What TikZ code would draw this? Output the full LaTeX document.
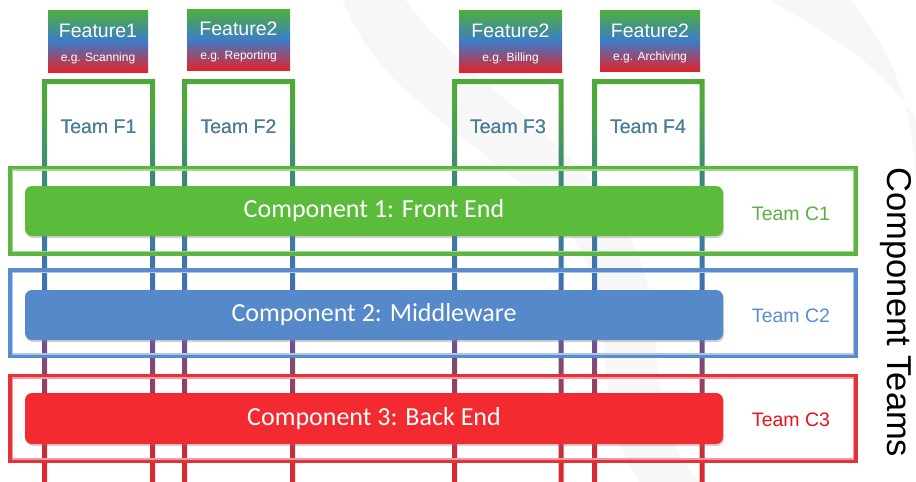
\documentclass[tikz,border=0pt]{standalone}
\usepackage{fontspec}
\setmainfont{Liberation Sans}
\newfontfamily\barfont{Carlito}
\usetikzlibrary{shadows,fadings}

% palette
\definecolor{fgreen}{HTML}{50A83C}
\definecolor{fteal}{HTML}{3C8A7C}
\definecolor{fblue}{HTML}{3E72B2}
\definecolor{fpurple}{HTML}{744E86}
\definecolor{fdred}{HTML}{B2323F}
\definecolor{fred}{HTML}{E0282E}
\definecolor{boxgreen}{HTML}{4EB03A}
\definecolor{boxblue}{HTML}{3C7CC8}
\definecolor{boxred}{HTML}{E2222C}
\definecolor{teamftop}{HTML}{3A84A0}
\definecolor{teamfbot}{HTML}{8E4874}
\definecolor{cgreen}{HTML}{5CB442}
\definecolor{cgreenl}{HTML}{9FDA86}
\definecolor{cblue}{HTML}{5A8BCB}
\definecolor{cbluel}{HTML}{A9C6EC}
\definecolor{cred}{HTML}{E4323A}
\definecolor{credl}{HTML}{F59A9E}
\definecolor{bargreen}{HTML}{5BBB3B}
\definecolor{barblue}{HTML}{5589C9}
\definecolor{barred}{HTML}{F32A30}
\definecolor{tc1}{HTML}{5AB040}
\definecolor{tc2}{HTML}{5B8ECE}
\definecolor{tc3}{HTML}{E8141C}

% colour run of the feature-team frames, green at the top to red at the bottom
\pgfdeclareverticalshading{featframe}{100bp}{%
  color(0bp)=(fred); color(26bp)=(fred); color(33.5bp)=(fdred);
  color(42bp)=(fpurple); color(50.5bp)=(fblue); color(64bp)=(fteal);
  color(72bp)=(fgreen); color(100bp)=(fgreen)}

% opaque at the top, clear at the bottom
\tikzfading[name=topdown, top color=transparent!0, bottom color=transparent!100]

\tikzset{
  featbox/.style={minimum width=#1, minimum height=62pt, inner sep=0pt,
    top color=boxgreen, bottom color=boxred, middle color=boxblue},
  fhead/.style={text=white, inner sep=0pt, font=\fontsize{19.5}{20}\selectfont},
  fsub/.style={text=white, inner sep=0pt, font=\fontsize{12}{13}\selectfont},
  featlabel/.style={text=#1, inner sep=0pt, font=\fontsize{19.5}{20}\selectfont},
  cframe/.style={draw=#1, line width=4.5pt},
  cframein/.style={draw=#1, line width=1.2pt},
  cbar/.style={fill=#1, rounded corners=7pt, minimum width=698pt,
    inner sep=0pt, text=white, font=\barfont\fontsize{26}{28}\selectfont,
    drop shadow={shadow xshift=1pt, shadow yshift=-2pt, opacity=.35}},
  clabel/.style={text=#1, font=\fontsize{19.5}{20}\selectfont},
}

\newcommand\teamframe[2]{%
  \shade[shading=featframe, even odd rule]
    ({#1-2.5},79) rectangle ({#2+2.5},492)
    ({#1+2.5},84) rectangle ({#2-2.5},492);}

% feature team name, teal at the top of the letters fading into purple
\newcommand\featteam[3]{%
  \node[featlabel=teamfbot] (#1) at (#2) {#3};
  \begin{scope}[scope fading=topdown]
    \node[featlabel=teamftop] (#1top) at (#2) {#3};
  \end{scope}}

\begin{document}
\begin{tikzpicture}[x=1pt, y=-1pt]
\useasboundingbox (0,0) rectangle (916,482);
\fill[white] (0,0) rectangle (916,482);

% faint watermark swirl in the background
\fill[black!3] (343,0) -- (405,0)
  .. controls (470,90) and (600,150) .. (640,260)
  .. controls (670,340) and (640,420) .. (700,482)
  -- (640,482)
  .. controls (590,410) and (620,330) .. (580,250)
  .. controls (540,170) and (380,110) .. (343,0) -- cycle;
\fill[black!3] (770,0) -- (850,0)
  .. controls (900,60) and (916,120) .. (916,200)
  -- (916,120) .. controls (880,60) and (820,30) .. (770,0) -- cycle;

% feature teams: vertical frames running through every layer
\teamframe{44.5}{152.5}
\teamframe{184.5}{292.5}
\teamframe{454.5}{561}
\teamframe{594.5}{702}

% feature headers
\node[featbox=100pt] (feat1) at (98,41) {};
\node[featbox=103pt, minimum height=61pt] (feat2) at (238.5,39.5) {};
\node[featbox=103pt] (feat3) at (510.5,41) {};
\node[featbox=100pt, minimum height=61pt] (feat4) at (650,40.5) {};
\node[fhead] (feat1t) at (98,31) {Feature1};
\node[fsub]  (feat1s) at (98,58) {e.g. Scanning};
\node[fhead] (feat2t) at (238.5,29) {Feature2};
\node[fsub]  (feat2s) at (238.5,56) {e.g. Reporting};
\node[fhead] (feat3t) at (510.5,31) {Feature2};
\node[fsub]  (feat3s) at (510.5,58) {e.g. Billing};
\node[fhead] (feat4t) at (650,30.5) {Feature2};
\node[fsub]  (feat4s) at (650,57) {e.g. Archiving};

% feature team names
\featteam{tf1}{98.5,127}{Team F1}
\featteam{tf2}{238.5,127}{Team F2}
\featteam{tf3}{508,127}{Team F3}
\featteam{tf4}{648,127}{Team F4}

% component team frames
\draw[cframe=cgreen] (10.5,168) rectangle (855.5,253.5);
\draw[cframein=cgreenl] (12.5,170) rectangle (853.5,251.5);
\draw[cframe=cblue] (10.5,270.5) rectangle (855.5,356);
\draw[cframein=cbluel] (12.5,272.5) rectangle (853.5,354);
\draw[cframe=cred] (10.5,376) rectangle (855.5,461);
\draw[cframein=credl] (12.5,378) rectangle (853.5,459);

% component bars
\node[cbar=bargreen, minimum height=50pt] (comp1) at (374,211) {Component 1: Front End};
\node[cbar=barblue, minimum height=50pt] (comp2) at (374,315) {Component 2: Middleware};
\node[cbar=barred, minimum height=51pt] (comp3) at (374,418.5) {Component 3: Back End};

% component team names
\node[clabel=tc1] (tc1) at (791,214) {Team C1};
\node[clabel=tc2] (tc2) at (791,316) {Team C2};
\node[clabel=tc3] (tc3) at (791,420) {Team C3};

% side title
\node[rotate=-90, font=\fontsize{34.5}{36}\selectfont] (ctitle) at (896,312.5) {Component Teams};
\end{tikzpicture}
\end{document}
